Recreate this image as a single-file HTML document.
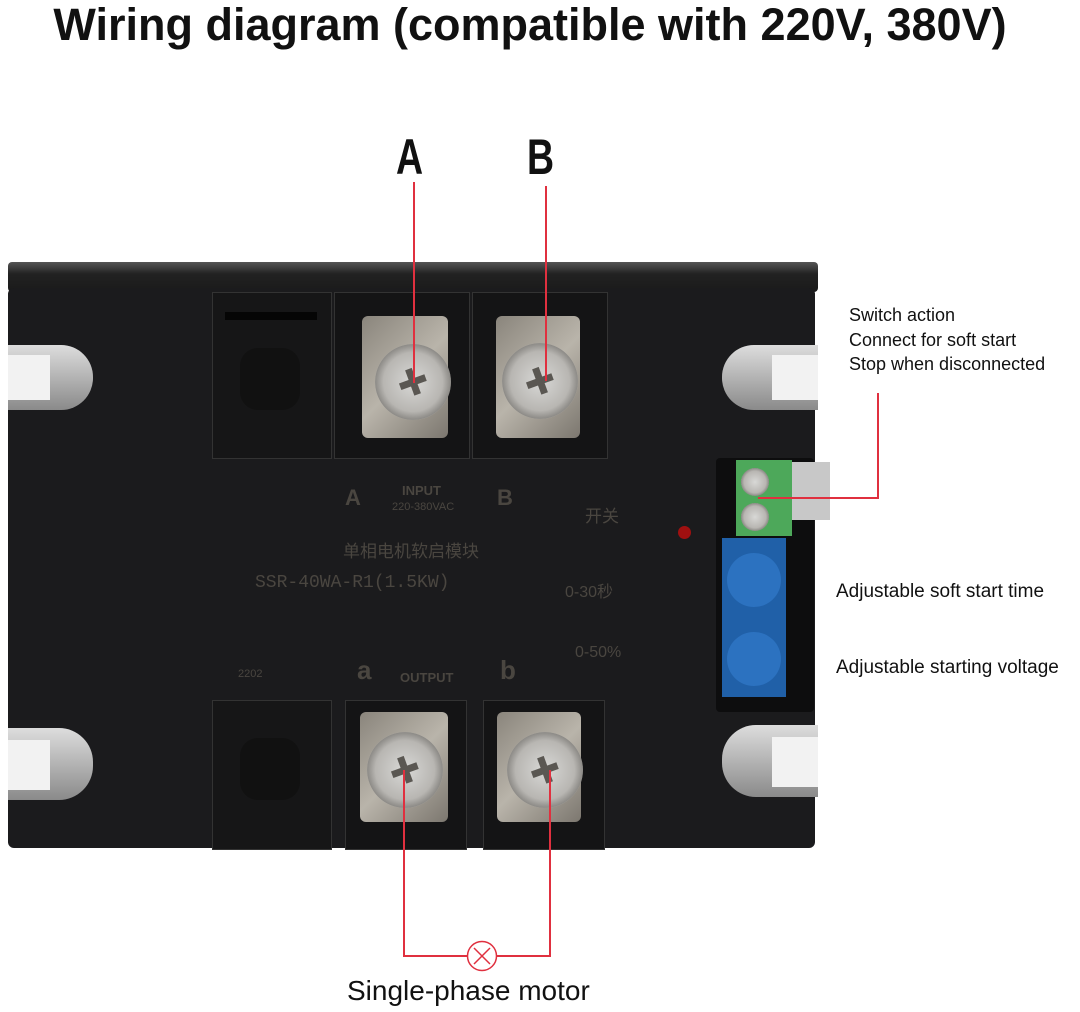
<!DOCTYPE html>
<html><head><meta charset="utf-8"><style>
body{margin:0;width:1080px;height:1012px;background:#fff;position:relative;overflow:hidden;font-family:"Liberation Sans","Noto Sans CJK SC",sans-serif}
.a{position:absolute}
.t{position:absolute;white-space:nowrap;color:#111}
.plate{position:absolute;background:linear-gradient(135deg,#8a857c,#b9b4aa 50%,#7c776f);border-radius:6px}
.scr{position:absolute;border-radius:50%;background:radial-gradient(circle,#d8d8d6 0,#b8b6b2 55%,#8d8b87 70%,#c9c7c2 72%,#9a9893 100%)}
.cr1,.cr2{position:absolute;background:#5a5752;left:50%;top:50%}
.cr1{width:36%;height:9%;transform:translate(-50%,-50%) rotate(-20deg)}
.cr2{width:9%;height:36%;transform:translate(-50%,-50%) rotate(-20deg)}
.ink{color:#4a4640;position:absolute;white-space:nowrap}
.red{position:absolute;background:#e0303f}
</style></head><body>
<div class="t" style="left:0;width:1060px;text-align:center;top:-1px;font-size:45px;font-weight:bold">Wiring diagram (compatible with 220V, 380V)</div>

<!-- body -->
<div class="a" style="left:8px;top:262px;width:810px;height:30px;background:linear-gradient(#555,#222 40%,#1a1a1a);border-radius:4px"></div>
<div class="a" style="left:8px;top:288px;width:807px;height:560px;background:#1b1b1d;border-radius:6px"></div>
<!-- left cutouts -->
<div class="a" style="left:8px;top:345px;width:85px;height:65px;background:linear-gradient(#ddd,#8a8a8a);border-radius:0 32px 32px 0"></div>
<div class="a" style="left:8px;top:355px;width:42px;height:45px;background:#f2f2f2"></div>
<div class="a" style="left:8px;top:728px;width:85px;height:72px;background:linear-gradient(#ddd,#8a8a8a);border-radius:0 34px 34px 0"></div>
<div class="a" style="left:8px;top:740px;width:42px;height:50px;background:#f2f2f2"></div>
<!-- right cutouts -->
<div class="a" style="left:722px;top:345px;width:96px;height:65px;background:linear-gradient(#ddd,#8a8a8a);border-radius:32px 0 0 32px"></div>
<div class="a" style="left:772px;top:355px;width:46px;height:45px;background:#f2f2f2"></div>
<div class="a" style="left:722px;top:725px;width:96px;height:72px;background:linear-gradient(#ddd,#8a8a8a);border-radius:34px 0 0 34px"></div>
<div class="a" style="left:772px;top:737px;width:46px;height:50px;background:#f2f2f2"></div>

<!-- top covers -->
<div class="a" style="left:212px;top:292px;width:118px;height:165px;background:#161617;border:1px solid #333"></div>
<div class="a" style="left:225px;top:312px;width:92px;height:8px;background:#050505"></div>
<div class="a" style="left:240px;top:348px;width:60px;height:62px;background:#111;border-radius:18px"></div>
<div class="a" style="left:334px;top:292px;width:134px;height:165px;background:#141415;border:1px solid #333"></div>
<div class="a" style="left:472px;top:292px;width:134px;height:165px;background:#141415;border:1px solid #333"></div>
<div class="plate" style="left:362px;top:316px;width:86px;height:122px"></div>
<div class="plate" style="left:496px;top:316px;width:84px;height:122px"></div>
<div class="scr" style="left:375px;top:344px;width:76px;height:76px"><div class="cr1"></div><div class="cr2"></div></div>
<div class="scr" style="left:502px;top:343px;width:76px;height:76px"><div class="cr1"></div><div class="cr2"></div></div>

<!-- bottom covers -->
<div class="a" style="left:212px;top:700px;width:118px;height:148px;background:#161617;border:1px solid #333"></div>
<div class="a" style="left:240px;top:738px;width:60px;height:62px;background:#111;border-radius:18px"></div>
<div class="a" style="left:345px;top:700px;width:120px;height:148px;background:#141415;border:1px solid #333"></div>
<div class="a" style="left:483px;top:700px;width:120px;height:148px;background:#141415;border:1px solid #333"></div>
<div class="plate" style="left:360px;top:712px;width:88px;height:110px"></div>
<div class="plate" style="left:497px;top:712px;width:84px;height:110px"></div>
<div class="scr" style="left:367px;top:732px;width:76px;height:76px"><div class="cr1"></div><div class="cr2"></div></div>
<div class="scr" style="left:507px;top:732px;width:76px;height:76px"><div class="cr1"></div><div class="cr2"></div></div>

<!-- printed text -->
<div class="ink" style="left:345px;top:485px;font-size:22px;font-weight:bold">A</div>
<div class="ink" style="left:402px;top:483px;font-size:13px;font-weight:bold">INPUT</div>
<div class="ink" style="left:392px;top:501px;font-size:11px">220-380VAC</div>
<div class="ink" style="left:497px;top:485px;font-size:22px;font-weight:bold">B</div>
<div class="ink" style="left:343px;top:537px;font-size:17px">单相电机软启模块</div>
<div class="ink" style="left:255px;top:573px;font-size:18px;font-family:'Liberation Mono','Noto Sans CJK SC',monospace">SSR-40WA-R1(1.5KW)</div>
<div class="ink" style="left:585px;top:502px;font-size:17px">开关</div>
<div class="ink" style="left:565px;top:578px;font-size:16px">0-30秒</div>
<div class="ink" style="left:575px;top:644px;font-size:16px">0-50%</div>
<div class="ink" style="left:238px;top:668px;font-size:11px">2202</div>
<div class="ink" style="left:357px;top:655px;font-size:26px;font-weight:bold">a</div>
<div class="ink" style="left:400px;top:670px;font-size:13px;font-weight:bold">OUTPUT</div>
<div class="ink" style="left:500px;top:655px;font-size:26px;font-weight:bold">b</div>
<div class="a" style="left:678px;top:526px;width:13px;height:13px;border-radius:50%;background:#a01010"></div>

<!-- right module -->
<div class="a" style="left:716px;top:458px;width:98px;height:254px;background:#0d0d0e;border-radius:4px"></div>
<div class="a" style="left:792px;top:462px;width:38px;height:58px;background:#c8c8c8"></div>
<div class="a" style="left:736px;top:460px;width:56px;height:76px;background:#4da85a"></div>
<div class="scr" style="left:741px;top:468px;width:28px;height:28px"></div>
<div class="scr" style="left:741px;top:503px;width:28px;height:28px"></div>
<div class="a" style="left:722px;top:538px;width:64px;height:80px;background:#2060a8"></div>
<div class="a" style="left:727px;top:553px;width:54px;height:54px;border-radius:50%;background:#2c72c0"></div>
<div class="a" style="left:722px;top:615px;width:64px;height:82px;background:#2060a8"></div>
<div class="a" style="left:727px;top:632px;width:54px;height:54px;border-radius:50%;background:#2c72c0"></div>

<!-- red lines -->
<div class="red" style="left:413px;top:182px;width:2px;height:201px"></div>
<div class="red" style="left:545px;top:186px;width:2px;height:195px"></div>
<div class="red" style="left:877px;top:393px;width:2px;height:105px"></div>
<div class="red" style="left:758px;top:497px;width:121px;height:2px"></div>
<div class="red" style="left:403px;top:770px;width:2px;height:187px"></div>
<div class="red" style="left:549px;top:770px;width:2px;height:187px"></div>
<div class="red" style="left:403px;top:955px;width:65px;height:2px"></div>
<div class="red" style="left:496px;top:955px;width:55px;height:2px"></div>
<svg class="a" style="left:466px;top:940px" width="32" height="32"><circle cx="16" cy="16" r="14.5" fill="#fff" stroke="#e0303f" stroke-width="1.5"/><path d="M8 8L24 24M24 8L8 24" stroke="#e0303f" stroke-width="1.5"/></svg>

<!-- labels -->
<div class="t" style="left:396px;top:128px;font-size:50px;font-weight:bold;transform:scaleX(.75);transform-origin:left">A</div>
<div class="t" style="left:527px;top:128px;font-size:50px;font-weight:bold;transform:scaleX(.75);transform-origin:left">B</div>
<div class="t" style="left:849px;top:303px;font-size:18px;line-height:24.5px">Switch action<br>Connect for soft start<br>Stop when disconnected</div>
<div class="t" style="left:836px;top:581px;font-size:19px">Adjustable soft start time</div>
<div class="t" style="left:836px;top:657px;font-size:19px">Adjustable starting voltage</div>
<div class="t" style="left:347px;top:975px;font-size:28px">Single-phase motor</div>
</body></html>
